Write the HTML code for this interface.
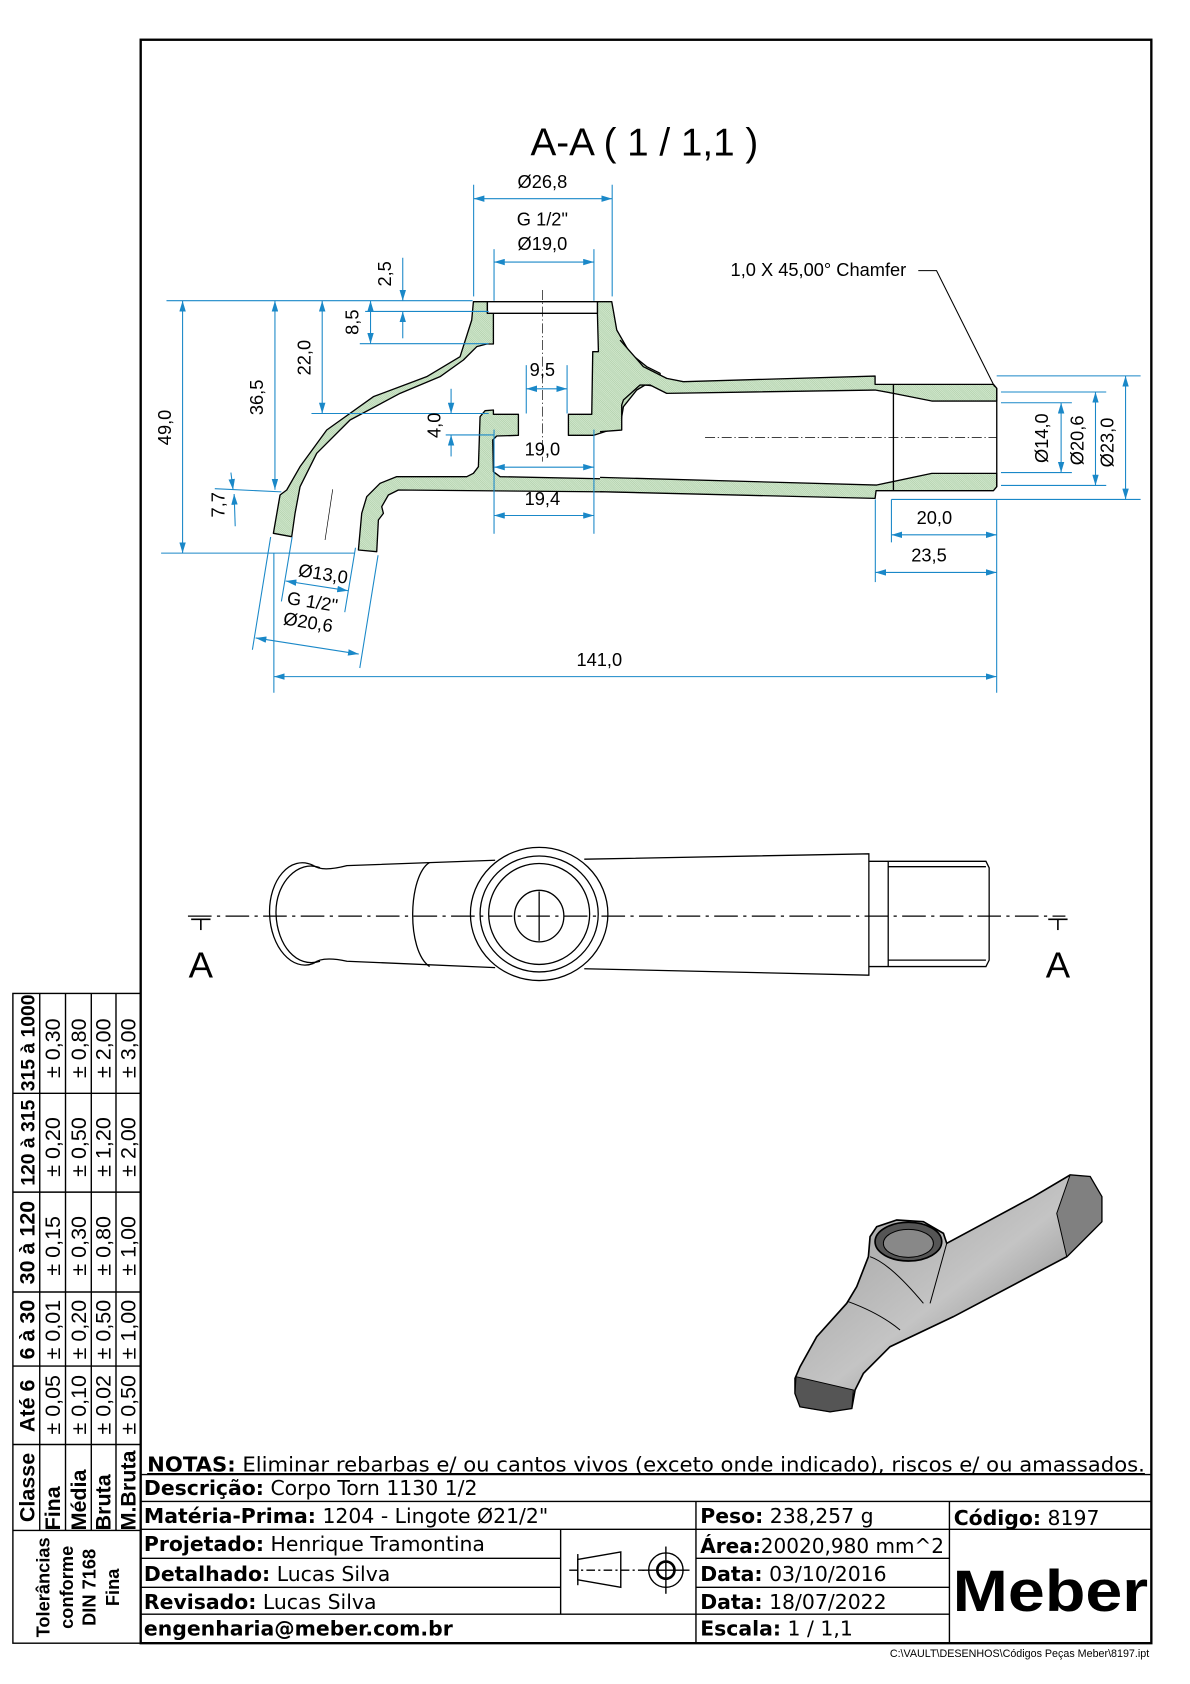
<!DOCTYPE html>
<html><head><meta charset="utf-8">
<style>
html,body{margin:0;padding:0;background:#fff;}
svg{display:block;}
text{font-family:"Liberation Sans",sans-serif;}
.tb text{font-family:"DejaVu Sans","Liberation Sans",sans-serif;}
</style></head>
<body>
<svg width="1190" height="1684" viewBox="0 0 1108 1568" preserveAspectRatio="none" xmlns="http://www.w3.org/2000/svg">
<defs>
<pattern id="h" patternUnits="userSpaceOnUse" width="4" height="4" patternTransform="rotate(-45)">
<rect width="4" height="4" fill="#d4ead0"/>
<line x1="0" y1="0" x2="0" y2="4" stroke="#6e9e66" stroke-width="1.3"/>
</pattern>
<marker id="a" viewBox="0 0 10 6" refX="10" refY="3" markerWidth="10" markerHeight="6" orient="auto-start-reverse" markerUnits="userSpaceOnUse">
<path d="M0,0 L10,3 L0,6 Z" fill="#1a88c8"/>
</marker>
<linearGradient id="g1" x1="0" y1="0" x2="1" y2="1">
<stop offset="0" stop-color="#9a9a9a"/><stop offset="0.5" stop-color="#c4c4c4"/><stop offset="1" stop-color="#5e5e5e"/>
</linearGradient>
</defs>

<rect x="131" y="37" width="941" height="1493" fill="none" stroke="#000" stroke-width="2.2"/>

<text x="600" y="145" font-size="36" text-anchor="middle">A-A ( 1 / 1,1 )</text>

<g transform="translate(223.5,260.7) scale(0.3104)" stroke="#000" stroke-width="4" fill="url(#h)" stroke-linejoin="round">
<path d="M700,65 L742,65 L742,100 L760,100 L760,192 L740,192 L710,200 L670,240 L600,290 L480,340 L330,420 L230,520 L180,620 L165,700 L155,770 L100,760 L120,645 L140,630 L180,560 L260,450 L400,350 L560,290 L660,230 L695,120 Z"/>
<path d="M355,810 L410,815 L415,720 L430,700 L425,680 L445,645 L475,630 L1260,637 L1260,600 L780,590 L760,575 L758,480 L770,468 L835,466 L835,403 L760,403 L760,390 L735,392 L720,410 L715,560 L700,580 L680,590 L470,590 L420,610 L380,650 L365,700 Z"/>
<path d="M1072,65 L1115,65 L1130,150 L1170,220 L1220,260 L1260,280 L1260,320 L1215,315 L1190,330 L1150,380 L1140,440 L1110,450 L1060,466 L985,466 L985,403 L1055,403 L1058,215 L1075,215 L1072,100 Z"/>
<rect x="742" y="65" width="330" height="35" fill="#fff"/>
<line x1="907" y1="30" x2="907" y2="545" stroke-width="2" stroke-dasharray="30,8,4,8"/>
<line x1="278" y1="628" x2="255" y2="780" stroke-width="2"/>
</g>
<g transform="translate(558.7,316.6) scale(0.3104)" stroke="#000" stroke-width="4" fill="url(#h)" stroke-linejoin="round">
<path d="M60,0 L130,80 L200,115 L250,125 L825,108 L825,133 L1180,133 L1190,145 L1190,183 L995,183 L880,160 L825,150 L200,160 L150,135 L120,135 L70,180 L65,195 L65,270 L0,275 L0,0 Z" stroke="none"/>
<path d="M60,0 L130,80 L200,115 L250,125 L825,108 L825,133 L1180,133 L1190,145 L1190,183 L995,183 L880,160 L825,150 L200,160 L150,135 L120,135 L70,180 L65,195 L65,270 L0,275" fill="none"/>
<path d="M0,412 L830,435 L995,400 L1190,400 L1190,440 L1180,452 L828,452 L825,475 L0,455 Z" stroke="none"/>
<path d="M0,412 L830,435 L995,400 L1190,400 L1190,440 L1180,452 L828,452 L825,475 L0,455" fill="none"/>
<line x1="880" y1="133" x2="880" y2="452"/>
<line x1="1190" y1="145" x2="1190" y2="440"/>
<line x1="315" y1="292" x2="1190" y2="292" stroke-width="2" stroke-dasharray="30,8,4,8"/>
</g>

<g stroke="#1a88c8" stroke-width="1" fill="none">
<line x1="441" y1="172" x2="441" y2="276"/><line x1="570" y1="172" x2="570" y2="276"/>
<line x1="460" y1="232" x2="460" y2="280"/><line x1="553" y1="232" x2="553" y2="280"/>
<line x1="155" y1="280" x2="440" y2="280"/>
<line x1="340" y1="290" x2="455" y2="290"/>
<line x1="335" y1="320" x2="455" y2="320"/>
<line x1="290" y1="385" x2="455" y2="385"/>
<line x1="150" y1="515" x2="330" y2="515"/>
<line x1="200" y1="455" x2="262" y2="458"/>
<line x1="415" y1="405" x2="460" y2="405"/>
<line x1="490" y1="340" x2="490" y2="385"/><line x1="528" y1="340" x2="528" y2="385"/>
<line x1="460" y1="400" x2="460" y2="497"/><line x1="553" y1="400" x2="553" y2="497"/>
<line x1="928" y1="350" x2="1062" y2="350"/>
<line x1="830" y1="465" x2="1062" y2="465"/>
<line x1="932" y1="375" x2="998" y2="375"/><line x1="932" y1="440" x2="998" y2="440"/>
<line x1="932" y1="365" x2="1030" y2="365"/><line x1="932" y1="452" x2="1030" y2="452"/>
<line x1="928" y1="465" x2="928" y2="645"/>
<line x1="830" y1="465" x2="830" y2="505"/>
<line x1="815" y1="465" x2="815" y2="542"/>
<line x1="255" y1="515" x2="255" y2="645"/>
<line x1="252" y1="500" x2="235" y2="605"/><line x1="352" y1="517" x2="335" y2="622"/>
<line x1="272" y1="500" x2="262" y2="560"/><line x1="331" y1="510" x2="321" y2="570"/>
<line x1="441" y1="185" x2="570" y2="185" marker-start="url(#a)" marker-end="url(#a)"/>
<line x1="460" y1="244" x2="553" y2="244" marker-start="url(#a)" marker-end="url(#a)"/>
<line x1="375" y1="240" x2="375" y2="280" marker-end="url(#a)"/>
<line x1="375" y1="315" x2="375" y2="290" marker-end="url(#a)"/>
<line x1="345" y1="280" x2="345" y2="320" marker-start="url(#a)" marker-end="url(#a)"/>
<line x1="300" y1="280" x2="300" y2="385" marker-start="url(#a)" marker-end="url(#a)"/>
<line x1="256" y1="280" x2="256" y2="456" marker-start="url(#a)" marker-end="url(#a)"/>
<line x1="170" y1="280" x2="170" y2="515" marker-start="url(#a)" marker-end="url(#a)"/>
<line x1="215" y1="440" x2="217" y2="456" marker-end="url(#a)"/>
<line x1="219" y1="490" x2="218" y2="460" marker-end="url(#a)"/>
<line x1="420" y1="362" x2="420" y2="385" marker-end="url(#a)"/>
<line x1="420" y1="425" x2="420" y2="405" marker-end="url(#a)"/>
<line x1="490" y1="362" x2="528" y2="362" marker-start="url(#a)" marker-end="url(#a)"/>
<line x1="460" y1="435" x2="553" y2="435" marker-start="url(#a)" marker-end="url(#a)"/>
<line x1="460" y1="480" x2="553" y2="480" marker-start="url(#a)" marker-end="url(#a)"/>
<line x1="988" y1="375" x2="988" y2="440" marker-start="url(#a)" marker-end="url(#a)"/>
<line x1="1020" y1="365" x2="1020" y2="452" marker-start="url(#a)" marker-end="url(#a)"/>
<line x1="1048" y1="350" x2="1048" y2="465" marker-start="url(#a)" marker-end="url(#a)"/>
<line x1="830" y1="498" x2="928" y2="498" marker-start="url(#a)" marker-end="url(#a)"/>
<line x1="815" y1="533" x2="928" y2="533" marker-start="url(#a)" marker-end="url(#a)"/>
<line x1="255" y1="630" x2="928" y2="630" marker-start="url(#a)" marker-end="url(#a)"/>
<line x1="238" y1="594" x2="334" y2="609" marker-start="url(#a)" marker-end="url(#a)"/>
<line x1="266" y1="541" x2="324" y2="550" marker-start="url(#a)" marker-end="url(#a)"/>
</g>
<polyline points="855,252 872,252 926,360" fill="none" stroke="#000" stroke-width="1"/>

<g font-size="17" fill="#000">
<text x="505" y="175" text-anchor="middle">Ø26,8</text>
<text x="505" y="210" text-anchor="middle">G 1/2"</text>
<text x="505" y="233" text-anchor="middle">Ø19,0</text>
<text x="762" y="257" text-anchor="middle">1,0 X 45,00° Chamfer</text>
<text transform="translate(364,255) rotate(-90)" text-anchor="middle">2,5</text>
<text transform="translate(334,300) rotate(-90)" text-anchor="middle">8,5</text>
<text transform="translate(289,333) rotate(-90)" text-anchor="middle">22,0</text>
<text transform="translate(245,370) rotate(-90)" text-anchor="middle">36,5</text>
<text transform="translate(159,398) rotate(-90)" text-anchor="middle">49,0</text>
<text transform="translate(209,470) rotate(-90)" text-anchor="middle">7,7</text>
<text transform="translate(410,396) rotate(-90)" text-anchor="middle">4,0</text>
<text x="505" y="350" text-anchor="middle">9,5</text>
<text x="505" y="424" text-anchor="middle">19,0</text>
<text x="505" y="470" text-anchor="middle">19,4</text>
<text transform="translate(976,408) rotate(-90)" text-anchor="middle">Ø14,0</text>
<text transform="translate(1009,410) rotate(-90)" text-anchor="middle">Ø20,6</text>
<text transform="translate(1037,412) rotate(-90)" text-anchor="middle">Ø23,0</text>
<text x="870" y="488" text-anchor="middle">20,0</text>
<text x="865" y="523" text-anchor="middle">23,5</text>
<text x="558" y="620" text-anchor="middle">141,0</text>
<text transform="translate(300,540) rotate(9)" text-anchor="middle">Ø13,0</text>
<text transform="translate(290,566) rotate(9)" text-anchor="middle">G 1/2"</text>
<text transform="translate(286,585) rotate(9)" text-anchor="middle">Ø20,6</text>
</g>

<g stroke="#000" stroke-width="1.2" fill="none">
<path d="M292,806 C270,795 250,820 251,851 C252,882 272,905 292,897"/>
<path d="M298,808 C278,800 256,822 257,851 C258,880 276,902 298,895"/>
<path d="M292,806 Q300,812 323,806 L461,801"/>
<path d="M292,897 Q300,890 323,895 L461,901"/>
<path d="M400,803 C380,815 378,885 400,900"/>
<path d="M544,800 L809,795 L809,908 L544,902"/>
<ellipse cx="502" cy="851" rx="64" ry="62"/>
<ellipse cx="502" cy="851" rx="55" ry="54"/>
<ellipse cx="502" cy="851" rx="47" ry="47"/>
<ellipse cx="502" cy="853" rx="23" ry="24"/>
<line x1="502" y1="830" x2="502" y2="876"/>
<path d="M809,802 L918,802 L921,808 L921,894 L918,900 L809,900"/>
<line x1="827" y1="802" x2="827" y2="900"/>
<line x1="827" y1="807" x2="918" y2="807"/><line x1="827" y1="894" x2="918" y2="894"/>
<line x1="175" y1="853" x2="992" y2="853" stroke-dasharray="22,5,3,5"/>
<line x1="178" y1="856" x2="196" y2="856" stroke-width="1.5"/><line x1="187" y1="856" x2="187" y2="866" stroke-width="1.5"/>
<line x1="976" y1="856" x2="994" y2="856" stroke-width="1.5"/><line x1="985" y1="856" x2="985" y2="866" stroke-width="1.5"/>
</g>
<text x="187" y="910" font-size="34" text-anchor="middle">A</text>
<text x="985" y="910" font-size="34" text-anchor="middle">A</text>

<g transform="translate(726.3,1080.1) scale(0.3104)" stroke="#000" stroke-width="5">
<path d="M45,655 L60,620 L110,530 L200,430 L230,380 L265,290 L270,230 L290,200 L350,180 L430,185 L490,220 L500,250 L760,110 L870,45 L930,50 L965,110 L965,185 L940,210 L860,290 L520,470 L330,560 L250,640 L225,690 L215,745 L150,755 L60,740 L45,700 Z" fill="url(#g1)"/>
<ellipse cx="385" cy="245" rx="100" ry="58" fill="#555"/>
<ellipse cx="385" cy="250" rx="75" ry="42" fill="#888" stroke-width="3"/>
<path d="M48,650 L220,690 L215,745 L150,755 L60,740 L45,700 Z" fill="#555" stroke-width="3"/>
<path d="M870,45 L930,50 L965,110 L965,185 L940,210 L860,290 L830,160 Z" fill="#808080" stroke-width="3"/>
<path d="M270,290 Q330,310 430,430 M500,250 L450,430 M205,425 Q300,460 360,510" fill="none" stroke-width="3"/>
</g>

<g stroke="#000" stroke-width="1.3" fill="none">
<rect x="12" y="925" width="119" height="605"/>
<line x1="37" y1="925" x2="37" y2="1425"/>
<line x1="61" y1="925" x2="61" y2="1425"/>
<line x1="85" y1="925" x2="85" y2="1425"/>
<line x1="108" y1="925" x2="108" y2="1425"/>
<line x1="12" y1="1018" x2="131" y2="1018"/>
<line x1="12" y1="1110" x2="131" y2="1110"/>
<line x1="12" y1="1203" x2="131" y2="1203"/>
<line x1="12" y1="1272" x2="131" y2="1272"/>
<line x1="12" y1="1345" x2="131" y2="1345"/>
<line x1="12" y1="1425" x2="131" y2="1425"/>
</g>
<g font-size="20">
<g font-weight="bold" font-size="18">
<text transform="translate(32,971) rotate(-90)" text-anchor="middle">315 à 1000</text>
<text transform="translate(32,1064) rotate(-90)" text-anchor="middle">120 à 315</text>
<text transform="translate(32,1157) rotate(-90)" text-anchor="middle" font-size="20">30 à 120</text>
<text transform="translate(32,1238) rotate(-90)" text-anchor="middle" font-size="20">6 à 30</text>
<text transform="translate(32,1309) rotate(-90)" text-anchor="middle" font-size="20">Até 6</text>
<text transform="translate(32,1385) rotate(-90)" text-anchor="middle" font-size="20">Classe</text>
<text transform="translate(56,1425) rotate(-90)" font-size="20">Fina</text>
<text transform="translate(80,1425) rotate(-90)" font-size="20">Média</text>
<text transform="translate(103,1425) rotate(-90)" font-size="20">Bruta</text>
<text transform="translate(126,1425) rotate(-90)" font-size="20">M.Bruta</text>
</g>
<text transform="translate(56,976) rotate(-90)" text-anchor="middle">± 0,30</text>
<text transform="translate(80,976) rotate(-90)" text-anchor="middle">± 0,80</text>
<text transform="translate(103,976) rotate(-90)" text-anchor="middle">± 2,00</text>
<text transform="translate(126,976) rotate(-90)" text-anchor="middle">± 3,00</text>
<text transform="translate(56,1068) rotate(-90)" text-anchor="middle">± 0,20</text>
<text transform="translate(80,1068) rotate(-90)" text-anchor="middle">± 0,50</text>
<text transform="translate(103,1068) rotate(-90)" text-anchor="middle">± 1,20</text>
<text transform="translate(126,1068) rotate(-90)" text-anchor="middle">± 2,00</text>
<text transform="translate(56,1160) rotate(-90)" text-anchor="middle">± 0,15</text>
<text transform="translate(80,1160) rotate(-90)" text-anchor="middle">± 0,30</text>
<text transform="translate(103,1160) rotate(-90)" text-anchor="middle">± 0,80</text>
<text transform="translate(126,1160) rotate(-90)" text-anchor="middle">± 1,00</text>
<text transform="translate(56,1238) rotate(-90)" text-anchor="middle">± 0,01</text>
<text transform="translate(80,1238) rotate(-90)" text-anchor="middle">± 0,20</text>
<text transform="translate(103,1238) rotate(-90)" text-anchor="middle">± 0,50</text>
<text transform="translate(126,1238) rotate(-90)" text-anchor="middle">± 1,00</text>
<text transform="translate(56,1308) rotate(-90)" text-anchor="middle">± 0,05</text>
<text transform="translate(80,1308) rotate(-90)" text-anchor="middle">± 0,10</text>
<text transform="translate(103,1308) rotate(-90)" text-anchor="middle">± 0,02</text>
<text transform="translate(126,1308) rotate(-90)" text-anchor="middle">± 0,50</text>
<g font-size="17" font-weight="bold" text-anchor="middle">
<text transform="translate(46,1478) rotate(-90)">Tolerâncias</text>
<text transform="translate(68,1478) rotate(-90)">conforme</text>
<text transform="translate(89,1478) rotate(-90)">DIN 7168</text>
<text transform="translate(111,1478) rotate(-90)">Fina</text>
</g>
</g>

<g stroke="#000" stroke-width="1.3">
<line x1="131" y1="1373" x2="1072" y2="1373"/>
<line x1="131" y1="1398" x2="1072" y2="1398"/>
<line x1="131" y1="1424" x2="1072" y2="1424"/>
<line x1="131" y1="1451" x2="522" y2="1451"/>
<line x1="131" y1="1478" x2="522" y2="1478"/>
<line x1="131" y1="1503" x2="648" y2="1503"/>
<line x1="648" y1="1451" x2="884" y2="1451"/>
<line x1="648" y1="1478" x2="884" y2="1478"/>
<line x1="648" y1="1503" x2="884" y2="1503"/>
<line x1="648" y1="1398" x2="648" y2="1530"/>
<line x1="884" y1="1398" x2="884" y2="1530"/>
<line x1="522" y1="1424" x2="522" y2="1503"/>
</g>
<g stroke="#000" stroke-width="1.3" fill="none">
<path d="M538,1452 L578,1445 L578,1478 L538,1471 Z"/>
<line x1="530" y1="1462" x2="600" y2="1462" stroke-dasharray="8,3,2,3"/>
<line x1="538" y1="1447" x2="538" y2="1476"/>
<circle cx="620" cy="1462" r="16"/><circle cx="620" cy="1462" r="8" stroke-width="2.5"/>
<line x1="598" y1="1462" x2="642" y2="1462"/><line x1="620" y1="1440" x2="620" y2="1484"/>
</g>
<g font-size="19" class="tb">
<text x="137" y="1370" textLength="929" lengthAdjust="spacingAndGlyphs"><tspan font-weight="bold">NOTAS:</tspan> Eliminar rebarbas e/ ou cantos vivos (exceto onde indicado), riscos e/ ou amassados.</text>
<line x1="137" y1="1372" x2="1066" y2="1372" stroke="#000" stroke-width="1"/>
<text x="134" y="1392"><tspan font-weight="bold">Descrição:</tspan> Corpo Torn 1130 1/2</text>
<text x="134" y="1418"><tspan font-weight="bold">Matéria-Prima:</tspan> 1204 - Lingote Ø21/2"</text>
<text x="134" y="1444"><tspan font-weight="bold">Projetado:</tspan> Henrique Tramontina</text>
<text x="134" y="1472"><tspan font-weight="bold">Detalhado:</tspan> Lucas Silva</text>
<text x="134" y="1498"><tspan font-weight="bold">Revisado:</tspan> Lucas Silva</text>
<text x="134" y="1523" font-weight="bold">engenharia@meber.com.br</text>
<text x="652" y="1418"><tspan font-weight="bold">Peso:</tspan> 238,257 g</text>
<text x="652" y="1446" textLength="227" lengthAdjust="spacingAndGlyphs"><tspan font-weight="bold">Área:</tspan>20020,980 mm^2</text>
<text x="652" y="1472"><tspan font-weight="bold">Data:</tspan> 03/10/2016</text>
<text x="652" y="1498"><tspan font-weight="bold">Data:</tspan> 18/07/2022</text>
<text x="652" y="1523"><tspan font-weight="bold">Escala:</tspan> 1 / 1,1</text>
<text x="888" y="1420"><tspan font-weight="bold">Código:</tspan> 8197</text>
</g>
<text x="978" y="1500" font-size="54" font-weight="bold" text-anchor="middle" textLength="182" lengthAdjust="spacingAndGlyphs">Meber</text>
<text x="1070" y="1543" font-size="10" text-anchor="end">C:\VAULT\DESENHOS\Códigos Peças Meber\8197.ipt</text>
</svg>
</body></html>
